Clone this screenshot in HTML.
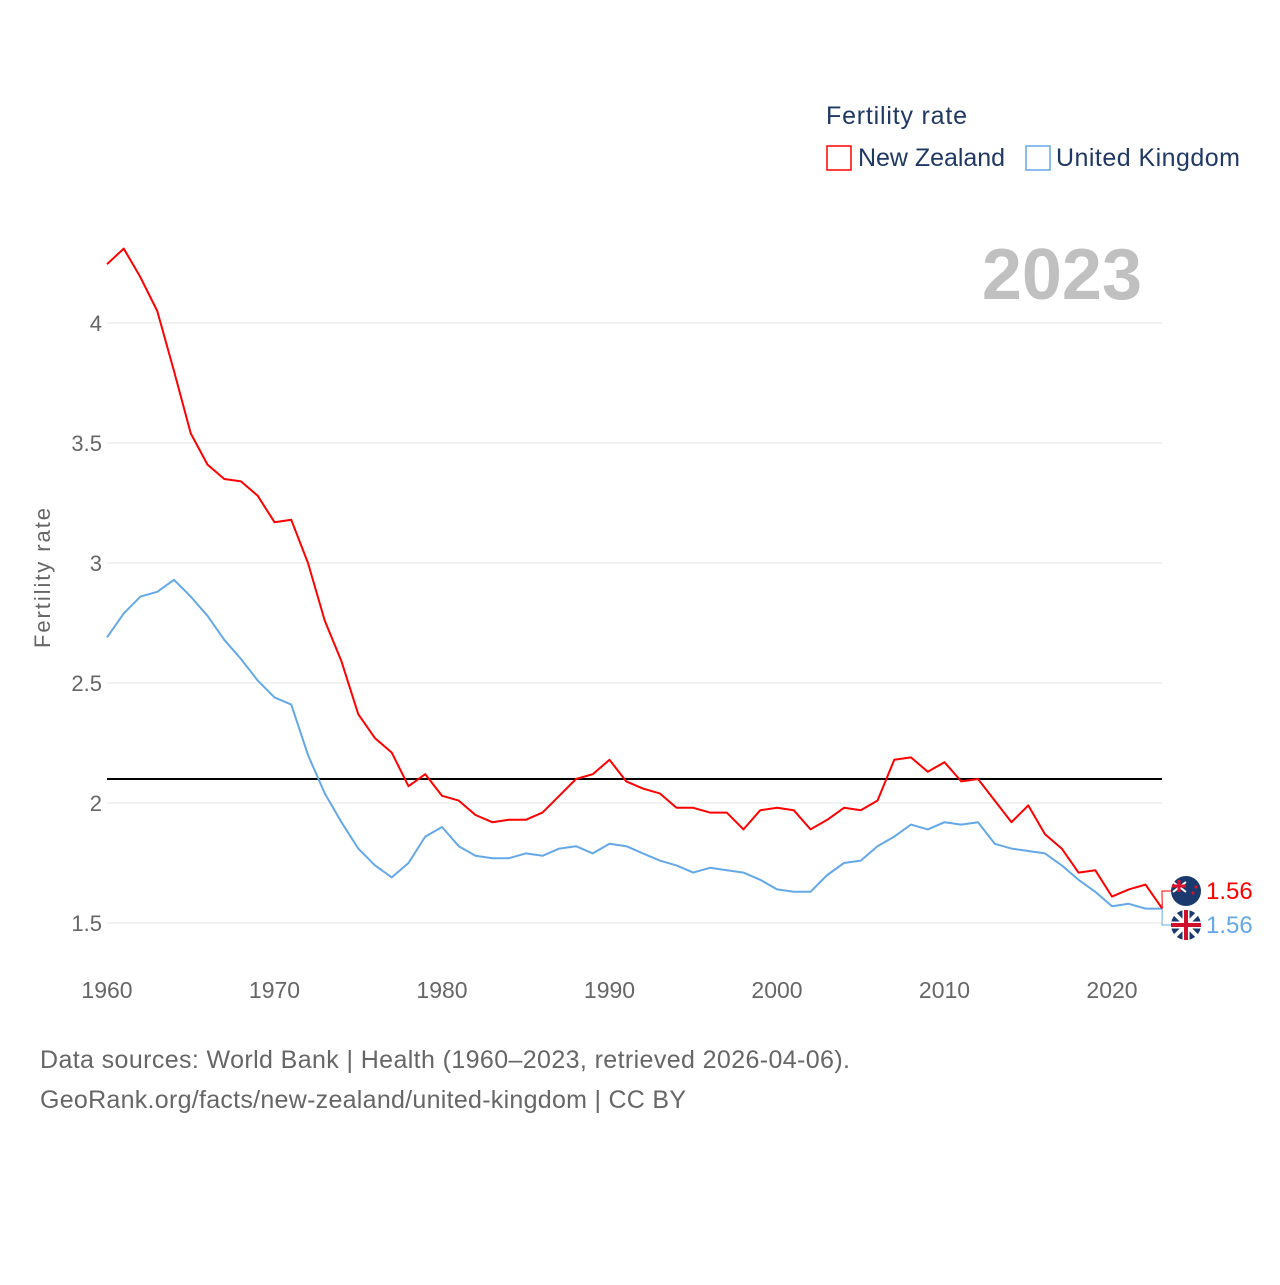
<!DOCTYPE html>
<html><head><meta charset="utf-8"><style>
body{margin:0;background:#fff;font-family:"Liberation Sans",sans-serif;}
svg text{font-family:"Liberation Sans",sans-serif;}
</style></head><body>
<svg id="chart" width="1280" height="1280" viewBox="0 0 1280 1280">
<text x="826" y="124" font-size="25" fill="#1f3864" textLength="141">Fertility rate</text>
<g><rect x="827" y="146" width="24" height="24" fill="none" stroke="#ff0000" stroke-width="1.5"/><text x="858" y="166" font-size="25" fill="#1f3864" textLength="147">New Zealand</text></g>
<g><rect x="1026" y="146" width="24" height="24" fill="none" stroke="#64a8e8" stroke-width="1.5"/><text x="1056" y="166" font-size="25" fill="#1f3864" textLength="184">United Kingdom</text></g>
<text x="1142" y="299" font-size="72" font-weight="bold" fill="#c0c0c0" text-anchor="end">2023</text>
<text transform="translate(50,578) rotate(-90)" font-size="22" fill="#666" text-anchor="middle" textLength="140">Fertility rate</text>
<g id="grid"></g><g id="series"></g>
<text x="40" y="1068" font-size="25" fill="#666" textLength="810">Data sources: World Bank | Health (1960–2023, retrieved 2026-04-06).</text>
<text x="40" y="1108" font-size="25" fill="#666" textLength="646">GeoRank.org/facts/new-zealand/united-kingdom | CC BY</text>
</svg>
<script>
const years=[];for(let y=1960;y<=2023;y++)years.push(y);
const nzValues=[4.245,4.31,4.19,4.05,3.80,3.54,3.41,3.35,3.34,3.28,3.17,3.18,3.00,2.76,2.59,2.37,2.27,2.21,2.07,2.12,2.03,2.01,1.95,1.92,1.93,1.93,1.96,2.03,2.10,2.12,2.18,2.09,2.06,2.04,1.98,1.98,1.96,1.96,1.89,1.97,1.98,1.97,1.89,1.93,1.98,1.97,2.01,2.18,2.19,2.13,2.17,2.09,2.10,2.01,1.92,1.99,1.87,1.81,1.71,1.72,1.61,1.64,1.66,1.56];
const ukValues=[2.69,2.79,2.86,2.88,2.93,2.86,2.78,2.68,2.60,2.51,2.44,2.41,2.20,2.04,1.92,1.81,1.74,1.69,1.75,1.86,1.90,1.82,1.78,1.77,1.77,1.79,1.78,1.81,1.82,1.79,1.83,1.82,1.79,1.76,1.74,1.71,1.73,1.72,1.71,1.68,1.64,1.63,1.63,1.70,1.75,1.76,1.82,1.86,1.91,1.89,1.92,1.91,1.92,1.83,1.81,1.80,1.79,1.74,1.68,1.63,1.57,1.58,1.56,1.56];
const yTicks=[1.5,2,2.5,3,3.5,4];
const xTicks=[1960,1970,1980,1990,2000,2010,2020];
const replacementRate=2.1;
const NS="http://www.w3.org/2000/svg";
const X=y=>107+(y-1960)*16.75;
const Y=v=>323+(4-v)*240;
function mk(tag,attrs,parent){const e=document.createElementNS(NS,tag);for(const k in attrs)e.setAttribute(k,attrs[k]);parent.appendChild(e);return e;}
const grid=document.getElementById('grid'),ser=document.getElementById('series');
yTicks.forEach(t=>{
 const l=mk('line',{x1:107,x2:1162,y1:Y(t),y2:Y(t),stroke:'#e6e6e6','stroke-width':1},grid);
 
 
 const tx=mk('text',{x:102,y:Y(t)+8,'font-size':22,fill:'#666','text-anchor':'end'},grid);tx.textContent=String(t);
 
 
});
xTicks.forEach(t=>{
 const tx=mk('text',{x:X(t),y:998,'font-size':23,fill:'#666','text-anchor':'middle'},grid);tx.textContent=String(t);
 
 
});
const ref=mk('line',{x1:107,x2:1162,y1:Y(replacementRate),y2:Y(replacementRate),stroke:'#000','stroke-width':2},ser);


function line(vals,color,name){
 const p=mk('polyline',{points:vals.map((v,i)=>X(years[i])+','+Y(v)).join(' '),fill:'none',stroke:color,'stroke-width':2,'stroke-linejoin':'round'},ser);
 
 
}
line(ukValues,'#64a8e8','uk-line');
line(nzValues,'#ff0000','nz-line');
const ends=[{v:nzValues[nzValues.length-1],c:'#ff0000',ly:891,flag:'nz'},{v:ukValues[ukValues.length-1],c:'#64a8e8',ly:925,flag:'uk'}];
ends.forEach(e=>{
 const ex=X(years[years.length-1]),ey=Y(e.v);
 const c=mk('polyline',{points:`${ex},${ey} 1162,${e.ly} 1172,${e.ly}`,fill:'none',stroke:e.c,'stroke-width':1},ser);
 
 
 const g=mk('g',{},ser);
 
 
 mk('circle',{cx:1186,cy:e.ly,r:15,fill:'#1a3a6e'},g);
 if(e.flag==='uk'){
  mk('path',{d:`M1175 ${e.ly-11}L1197 ${e.ly+11}M1197 ${e.ly-11}L1175 ${e.ly+11}`,stroke:'#fff','stroke-width':4},g);
  mk('path',{d:`M1186 ${e.ly-15}V${e.ly+15}M1171 ${e.ly}H1201`,stroke:'#fff','stroke-width':7},g);
  mk('path',{d:`M1186 ${e.ly-15}V${e.ly+15}M1171 ${e.ly}H1201`,stroke:'#d0102a','stroke-width':4},g);
 }else{
  mk('path',{d:`M1173 ${e.ly-9}L1186 ${e.ly+1}M1186 ${e.ly-9}L1173 ${e.ly+1}`,stroke:'#fff','stroke-width':2},g);
  mk('path',{d:`M1179 ${e.ly-11}V${e.ly+1}M1172 ${e.ly-5}H1186`,stroke:'#e0102a','stroke-width':3},g);
  mk('circle',{cx:1193,cy:e.ly+2,r:1.5,fill:'#e0102a'},g);
  mk('circle',{cx:1196,cy:e.ly-4,r:1.5,fill:'#e0102a'},g);
 }
 const t=mk('text',{x:1206,y:e.ly+8,'font-size':24,fill:e.c},ser);t.textContent=e.v.toFixed(2);
 
 
});
</script>
</body></html>
